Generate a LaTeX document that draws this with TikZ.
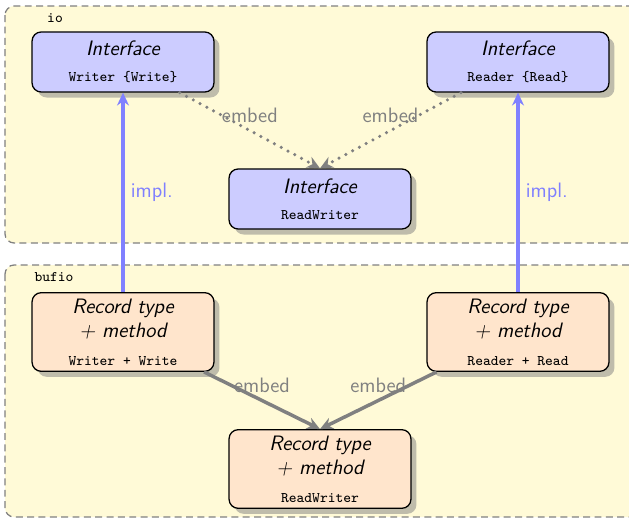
\documentclass[tikz,border=0pt]{standalone}
\usetikzlibrary{arrows.meta,shadows}
\definecolor{pkgfill}{RGB}{255,250,215}
\definecolor{implblue}{RGB}{128,128,255}
\newcommand\sfbig{\fontsize{11.4}{13.4}\selectfont\sffamily}
\begin{document}
\begin{tikzpicture}[x=0.5464pt,y=-0.5464pt,
  pkg/.style={draw=gray, line width=0.7pt, dash pattern=on 3.8pt off 2.4pt,
    fill=pkgfill, rounded corners=5pt},
  pkglabel/.style={font=\ttfamily\footnotesize, inner sep=0pt},
  boxbase/.style={draw, line width=0.7pt, rounded corners=5pt, align=center,
    minimum width=99.4pt, font=\sfbig\itshape,
    drop shadow={shadow xshift=3pt, shadow yshift=-3pt, opacity=0.5}},
  iface/.style={boxbase, fill=blue!20, minimum height=32.8pt},
  record/.style={boxbase, fill=orange!20, minimum height=42.6pt},
  embedarrow/.style={draw=gray, line width=1.9pt, -{Stealth[length=7pt,width=6.5pt]}},
  embeddot/.style={embedarrow, line cap=round, dash pattern=on 0pt off 4.2pt},
  implarrow/.style={draw=implblue, line width=1.9pt, -{Stealth[length=7pt,width=6.5pt]}},
  lbl/.style={font=\sfbig},
]
\useasboundingbox (0,0) rectangle (629,520);

% package frames
\draw[pkg] (5,6) rectangle (660,243);
\draw[pkg] (5,265) rectangle (660,517);
\node[pkglabel] (io) at (55,18) {io};
\node[pkglabel] (bufio) at (54,277) {bufio};

% interfaces of package io
\node[iface] (iw) at (123,62) {Interface\\[1pt]{\upshape\ttfamily\footnotesize Writer \{Write\}}};
\node[iface] (ir) at (518,62) {Interface\\[1pt]{\upshape\ttfamily\footnotesize Reader \{Read\}}};
\node[iface] (irw) at (320,199) {Interface\\[1pt]{\upshape\ttfamily\footnotesize ReadWriter}};

% record types of package bufio
\node[record] (rw) at (123,332) {Record type\\+ method\\[1.5pt]{\upshape\ttfamily\footnotesize Writer + Write}};
\node[record] (rr) at (518,332) {Record type\\+ method\\[1.5pt]{\upshape\ttfamily\footnotesize Reader + Read}};
\node[record] (rrw) at (320,469) {Record type\\+ method\\[1.5pt]{\upshape\ttfamily\footnotesize ReadWriter}};

% embedding of interfaces
\draw[embeddot] (iw) -- node[above, lbl, text=gray] {embed} (irw.north);
\draw[embeddot] (ir) -- node[above, lbl, text=gray] {embed} (irw.north);

% embedding of record types
\draw[embedarrow] (rw) -- node[above, lbl, text=gray] {embed} (rrw.north);
\draw[embedarrow] (rr) -- node[above, lbl, text=gray] {embed} (rrw.north);

% implementation
\draw[implarrow] (rw) -- node[right, lbl, text=implblue] {impl.} (iw);
\draw[implarrow] (rr) -- node[right, lbl, text=implblue] {impl.} (ir);
\end{tikzpicture}
\end{document}
